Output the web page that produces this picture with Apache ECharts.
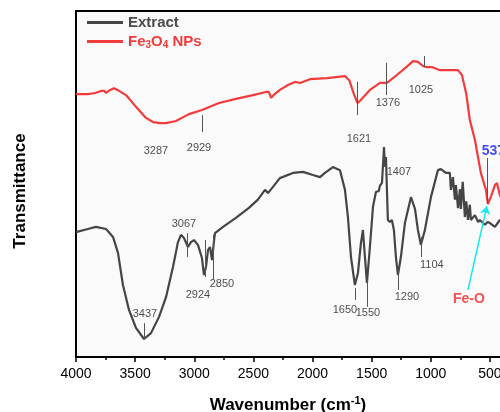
<!DOCTYPE html>
<html><head><meta charset="utf-8">
<script src="https://cdn.jsdelivr.net/npm/echarts@6/dist/echarts.min.js"></script>
<style>html,body{margin:0;padding:0;background:#fff}#c{width:500px;height:412px}</style>
</head><body><div id="c"></div>
<script>
// x tick labels (wavenumber, cm-1)
const majorTicks = [4000, 3500, 3000, 2500, 2000, 1500, 1000, 500];
const minorTicks = [3750, 3250, 2750, 2250, 1750, 1250, 750];

// Fe3O4 NPs spectrum [wavenumber, transmittance a.u.]
const fe3o4 = [[4000,76.0],[3900,76.0],[3839,76.3],[3789,76.9],[3760,76.9],[3746,76.3],[3720,77.0],[3679,77.7],[3640,77.0],[3577,75.7],[3493,72.3],[3408,69.1],[3349,67.9],[3290,67.6],[3239,67.6],[3155,68.2],[3045,70.2],[2935,71.4],[2791,73.4],[2648,74.6],[2504,75.7],[2394,76.6],[2370,76.6],[2350,74.9],[2320,76.0],[2276,77.2],[2208,78.6],[2149,79.5],[2106,79.2],[2022,80.3],[1878,80.6],[1726,81.2],[1690,80.0],[1650,76.0],[1620,73.4],[1600,74.0],[1560,75.5],[1515,77.2],[1430,79.2],[1371,79.2],[1287,81.5],[1200,84.0],[1151,85.5],[1109,85.3],[1067,84.1],[1040,83.8],[991,83.8],[923,82.9],[771,82.9],[737,81.5],[700,76.0],[670,68.5],[627,62.7],[577,53.2],[534,48.3],[517,44.2],[490,46.5],[458,49.7],[441,50.3],[416,46.8],[400,45.5]];

// Extract spectrum
const extract = [[4000,36.1],[3900,37.0],[3831,37.6],[3746,37.0],[3687,34.7],[3645,30.1],[3603,20.8],[3552,13.6],[3493,8.4],[3425,5.2],[3366,6.9],[3298,11.6],[3239,17.3],[3180,26.0],[3138,33.2],[3112,35.3],[3087,34.4],[3053,31.8],[3028,33.2],[3003,33.8],[2969,32.4],[2935,28.6],[2918,23.7],[2901,26.0],[2884,30.9],[2867,31.8],[2850,28.0],[2835,33.0],[2825,35.8],[2757,37.6],[2648,40.2],[2538,43.1],[2462,45.5],[2402,48.3],[2377,47.4],[2343,48.8],[2276,51.7],[2166,53.2],[2081,53.5],[1997,52.6],[1937,52.0],[1895,53.2],[1828,54.9],[1768,54.0],[1726,48.3],[1701,40.5],[1675,28.9],[1642,20.8],[1616,24.3],[1591,32.9],[1574,36.7],[1557,28.9],[1540,21.4],[1515,31.8],[1489,43.4],[1464,47.7],[1440,48.0],[1430,49.5],[1413,50.3],[1400,58.0],[1396,60.7],[1388,55.0],[1379,57.8],[1371,48.3],[1363,39.6],[1346,39.0],[1329,39.6],[1312,36.7],[1295,28.9],[1278,23.7],[1253,28.9],[1219,38.7],[1168,46.2],[1134,42.8],[1109,36.7],[1084,32.4],[1050,36.7],[999,46.2],[940,54.0],[915,54.3],[872,53.2],[839,53.2],[830,48.3],[813,52.0],[796,45.5],[788,49.7],[770,43.0],[754,48.5],[746,42.8],[730,50.6],[712,40.5],[700,45.0],[686,39.6],[670,44.0],[661,39.6],[627,41.0],[600,39.0],[585,39.6],[543,38.2],[520,39.0],[500,38.7],[458,37.6],[416,39.6],[400,39.0]];

// peak marker lines [wavenumber, y1, y2]
const peakMarks = [[2929,69.9,65.0],[1621,79.5,69.9],[1376,85.0,75.7],[1055,87.0,83.8],[525,57.5,44.5],
  [3425,9.8,5.2],[3062,35.8,28.9],[2910,33.8,23.1],[2842,35.3,22.3],[1642,19.9,16.5],[1540,22.3,14.5],[1278,25.1,19.4],[1084,34.7,28.9]];
// peak labels [wavenumber, y, text]
const peakLabels = [[3324,59.5,'3287'],[2960,60.4,'2929'],[1608,63.0,'1621'],[1363,73.4,'1376'],[1084,77.2,'1025'],
  [3417,12.4,'3437'],[3087,38.4,'3067'],[2969,17.9,'2924'],[2766,21.1,'2850'],[1270,53.5,'1407'],[1726,13.6,'1650'],[1532,12.7,'1550'],[1202,17.3,'1290'],[991,26.6,'1104']];
const feoLabel = [[678,16.8,'Fe-O']];
const label537 = [[570,59.5,'537']];
const arrow = [[686,19.4],[526,43.6]];

const chart = echarts.init(document.getElementById('c'));
const FONT = 'Liberation Sans, Arial, sans-serif';
const xBase = {type: 'value', inverse: true, min: 415, max: 4000};
chart.setOption({
  animation: false,
  grid: {left: 76, top: 11, right: 0, bottom: 55, show: true, backgroundColor: '#fafafa', borderWidth: 0,
         containLabel: false, outerBoundsMode: 'none'},
  legend: {
    orient: 'vertical', left: 82, top: 10, itemWidth: 36, itemHeight: 3, itemGap: 4, icon: 'rect',
    data: ['Extract', 'Fe3O4 NPs'],
    formatter: n => n === 'Extract' ? '{e|Extract}' : '{r|Fe}{rs|3}{r|O}{rs|4}{r| NPs}',
    textStyle: {fontFamily: FONT, rich: {
      e: {color: '#4a4a4a', fontSize: 15, fontWeight: 'bold', fontFamily: FONT, lineHeight: 18},
      r: {color: '#f23c3c', fontSize: 15, fontWeight: 'bold', fontFamily: FONT, lineHeight: 18},
      rs: {color: '#f23c3c', fontSize: 10, fontWeight: 'bold', fontFamily: FONT, padding: [8, 0, 0, 0]}
    }}
  },
  xAxis: [Object.assign({}, xBase, {
    position: 'bottom',
    name: '{b|Wavenumber (cm}{s|-1}{b|)}', nameLocation: 'middle', nameGap: 38,
    nameTextStyle: {rich: {
      b: {fontSize: 17, fontWeight: 'bold', color: '#000', fontFamily: FONT},
      s: {fontSize: 11, fontWeight: 'bold', color: '#000', fontFamily: FONT, padding: [0, 0, 9, 0]}
    }},
    axisLine: {show: true, onZero: false, lineStyle: {color: '#000', width: 2}},
    axisTick: {show: true, customValues: majorTicks, length: 5, inside: false, lineStyle: {color: '#000', width: 1.5}},
    axisLabel: {customValues: majorTicks, formatter: v => String(v), fontSize: 14, color: '#000', fontFamily: FONT, margin: 10},
    splitLine: {show: false}
  }), Object.assign({}, xBase, {
    position: 'top',
    axisLine: {show: true, onZero: false, lineStyle: {color: '#000', width: 2}},
    axisTick: {show: false}, axisLabel: {show: false}, splitLine: {show: false}
  }), Object.assign({}, xBase, {
    position: 'bottom',
    axisLine: {show: false},
    axisTick: {show: true, customValues: minorTicks, length: 3, lineStyle: {color: '#000', width: 1.5}},
    axisLabel: {show: false}, splitLine: {show: false}
  })],
  yAxis: {
    type: 'value', min: 0, max: 100,
    name: 'Transmittance', nameLocation: 'middle', nameGap: 47,
    nameTextStyle: {fontSize: 17, fontWeight: 'bold', color: '#000', fontFamily: FONT, padding: [0, 14, 0, 0]},
    axisLine: {show: true, lineStyle: {color: '#000', width: 2}},
    axisTick: {show: false}, axisLabel: {show: false}, splitLine: {show: false}
  },
  series: [{
    name: 'Extract', type: 'line', data: extract, symbol: 'none', silent: true,
    lineStyle: {color: '#454545', width: 2.2}, itemStyle: {color: '#454545'},
    markLine: {silent: true, symbol: 'none', label: {show: false},
      lineStyle: {color: '#555', width: 1, type: 'solid'},
      data: peakMarks.map(m => [{coord: [m[0], m[1]]}, {coord: [m[0], m[2]]}])}
  }, {
    name: 'Fe3O4 NPs', type: 'line', data: fe3o4, symbol: 'none', silent: true,
    lineStyle: {color: '#f23c3c', width: 2.2}, itemStyle: {color: '#f23c3c'},
    markLine: {silent: true, symbol: ['none', 'arrow'], symbolSize: 8, label: {show: false},
      lineStyle: {color: '#14e8f0', width: 1.5, type: 'solid'},
      data: [[{coord: arrow[0]}, {coord: arrow[1]}]]}
  }, {
    type: 'scatter', silent: true, symbolSize: 0, data: peakLabels,
    label: {show: true, position: 'inside', formatter: p => p.data[2], fontSize: 11, color: '#222', fontFamily: FONT}
  }, {
    type: 'scatter', silent: true, symbolSize: 0, data: feoLabel,
    label: {show: true, position: 'inside', formatter: p => p.data[2], fontSize: 14, fontWeight: 'bold', color: '#f02828', fontFamily: FONT}
  }, {
    type: 'scatter', silent: true, symbolSize: 0, data: label537,
    label: {show: true, position: 'right', distance: 0, formatter: p => p.data[2], fontSize: 14, fontWeight: 'bold', color: '#1a1aee', fontFamily: FONT}
  }]
});
</script></body></html>
